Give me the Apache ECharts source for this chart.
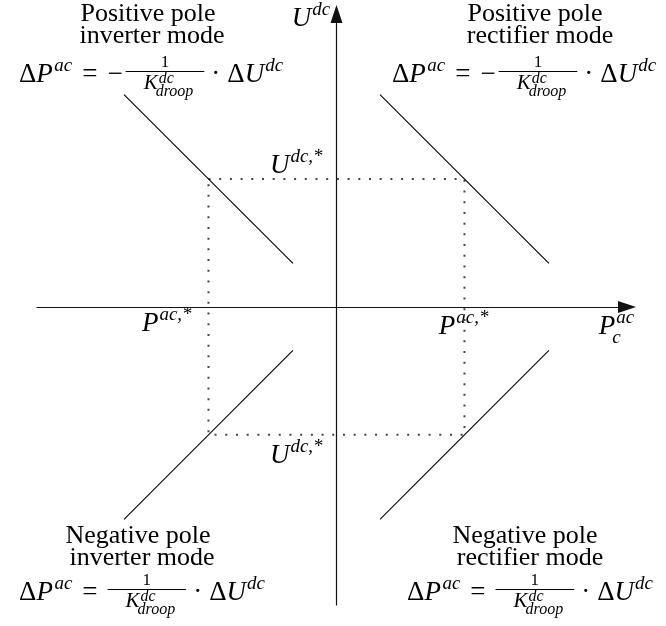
<!DOCTYPE html>
<html>
<head>
<meta charset="utf-8">
<script src="https://cdn.jsdelivr.net/npm/echarts@6/dist/echarts.min.js"></script>
<style>
  html, body { margin: 0; padding: 0; background: #fff; }
  #chart { width: 666px; height: 626px; }
</style>
</head>
<body>
<div id="chart"></div>
<script>
// Normalised set-points: P^{ac,*} = ±1, U^{dc,*} = ±1
const setPointBox = [[-1, 1], [1, 1], [1, -1], [-1, -1], [-1, 1]];

// Droop characteristic segments, one per pole / converter mode
const posInverter  = [[-1.66, 1.66], [-0.34, 0.34]];
const posRectifier = [[0.34, 1.66], [1.66, 0.34]];
const negInverter  = [[-1.66, -1.66], [-0.34, -0.34]];
const negRectifier = [[0.34, -1.66], [1.66, -0.34]];

// Axis extents (normalised units)
const xExtent = [-2.34, 2.27];
const yExtent = [-2.33, 2.29];

// Quadrant captions: text lines and the sign in front of the droop fraction
const quadrantTitles = [
  ['Positive pole', 'inverter mode'],
  ['Positive pole', 'rectifier mode'],
  ['Negative pole', 'inverter mode'],
  ['Negative pole', 'rectifier mode']
];
const quadrantSigns = ['\u2212', '\u2212', '', ''];

const chart = echarts.init(document.getElementById('chart'), null, { renderer: 'canvas' });

const arrowPath = 'path://M6,0L12,18L0,18Z';
const axisLineStyle = { color: '#111', width: 1.2 };

function axisCfg(extent) {
  return {
    type: 'value',
    min: extent[0],
    max: extent[1],
    axisLine: {
      show: true,
      onZero: true,
      symbol: ['none', arrowPath],
      symbolSize: [12, 18],
      lineStyle: axisLineStyle
    },
    axisTick: { show: false },
    axisLabel: { show: false },
    splitLine: { show: false }
  };
}

function droopSeries(data) {
  return {
    type: 'line',
    data: data,
    symbol: 'none',
    silent: true,
    lineStyle: { color: '#000', width: 1.1 },
    z: 3
  };
}

chart.setOption({
  animation: false,
  backgroundColor: '#fff',
  grid: { left: 37, right: 39, top: 14, bottom: 21, outerBoundsMode: 'none' },
  xAxis: axisCfg(xExtent),
  yAxis: axisCfg(yExtent),
  series: [
    {
      type: 'line',
      data: setPointBox,
      symbol: 'none',
      silent: true,
      lineStyle: { color: '#444', width: 2, type: [2, 8.7], cap: 'butt' },
      z: 2
    },
    droopSeries(posInverter),
    droopSeries(posRectifier),
    droopSeries(negInverter),
    droopSeries(negRectifier)
  ]
});

// ---- math-style text typesetting helpers ----
const FAMILY = '"Liberation Serif", "Times New Roman", serif';
const ST = 26;       // caption text size
const S0 = 27;       // math base size
const S1 = 19;       // superscript size
const SN = 17;       // fraction numerator size
const SK = 21;       // fraction denominator base size
const S2 = 16;       // scripts on the denominator
const SUP = 11;      // superscript raise
const THICK = 10;    // space around relations
const MED = 7;       // space around binary operators
const mctx = document.createElement('canvas').getContext('2d');

function fontOf(size, it) { return (it ? 'italic ' : '') + size + 'px ' + FAMILY; }
function widthOf(t, size, it) { mctx.font = fontOf(size, it); return mctx.measureText(t).width; }
function baseOff(size, it) {
  mctx.font = fontOf(size, it);
  mctx.textBaseline = 'middle';
  const d = mctx.measureText('H').actualBoundingBoxDescent;
  mctx.textBaseline = 'alphabetic';
  return d;
}
function textEl(t, x, baseline, size, it, align) {
  return {
    type: 'text',
    x: x,
    y: baseline - baseOff(size, it),
    silent: true,
    style: {
      text: t,
      font: fontOf(size, it),
      fill: '#000',
      align: align || 'left',
      verticalAlign: 'middle',
      textAlign: align || 'left',
      textVerticalAlign: 'middle'
    }
  };
}
function shiftEls(els, dx) {
  els.forEach(function (e) {
    if (e.type === 'rect') e.shape.x += dx; else e.x += dx;
  });
}

// ΔP^ac = [sign] 1/K^dc_droop · ΔU^dc, centred on cx with baseline B
function droopFormula(sign, cx, B) {
  const els = [];
  let x = 0;
  function put(t, s, it, dy) {
    els.push(textEl(t, x, B + (dy || 0), s, it));
    x += widthOf(t, s, it);
  }
  put('\u0394', S0, false);
  put('P', S0, true); x += 1.5;
  put('ac', S1, true, -SUP);
  x += THICK; put('=', S0, false); x += THICK;
  if (sign) { put(sign, S0, false); x += 3; }

  const numW = widthOf('1', SN, false);
  const kW = widthOf('K', SK, true);
  const scriptW = Math.max(widthOf('dc', S2, true), widthOf('droop', S2, true));
  const denW = kW + scriptW;
  const padL = 18, padR = 9;
  const barW = denW + padL + padR;
  const fx = x;
  els.push(textEl('1', fx + (barW - numW) / 2, B - 15, SN, false));
  const dx = fx + padL;
  els.push(textEl('K', dx, B + 7, SK, true));
  els.push(textEl('dc', dx + kW + 1, B + 1, S2, true));
  els.push(textEl('droop', dx + kW - 2, B + 14, S2, true));
  els.push({ type: 'rect', silent: true, shape: { x: fx, y: B - 11, width: barW, height: 1 }, style: { fill: '#000' } });
  x += barW;

  x += MED; put('\u00B7', S0, false); x += MED;
  put('\u0394', S0, false);
  put('U', S0, true); x += 1;
  put('dc', S1, true, -SUP);
  shiftEls(els, cx - x / 2);
  return els;
}

// Base letter with superscript (and optional subscript), left-aligned at x
function scripted(base, sup, sub, x, B) {
  const els = [textEl(base, x, B, S0, true)];
  const bx = x + widthOf(base, S0, true);
  els.push(textEl(sup, bx + 1, B - SUP, S1, true));
  if (sub) els.push(textEl(sub, bx - 3, B + 9, S1, true));
  return els;
}

// Caption layout: line centres and baselines per quadrant
const captionLayout = [
  { cx: [148, 152, 151], base: [21, 43, 82] },
  { cx: [535, 540, 524], base: [21, 43, 82] },
  { cx: [138, 142, 142], base: [543, 565, 600] },
  { cx: [525, 530, 530], base: [543, 565, 600] }
];

// Axis and set-point labels, anchored in data units (left edge, baseline)
const axisLabels = [
  { base: 'U', sup: 'dc', at: [-0.35, 2.20] },
  { base: 'P', sup: 'ac', sub: 'c', at: [2.05, -0.21] },
  { base: 'P', sup: 'ac,*', at: [0.80, -0.21] },
  { base: 'P', sup: 'ac,*', at: [-1.52, -0.19] },
  { base: 'U', sup: 'dc,*', at: [-0.52, 1.05] },
  { base: 'U', sup: 'dc,*', at: [-0.52, -1.22] }
];

const graphics = [];
quadrantTitles.forEach(function (lines, i) {
  const lay = captionLayout[i];
  graphics.push(textEl(lines[0], lay.cx[0], lay.base[0], ST, false, 'center'));
  graphics.push(textEl(lines[1], lay.cx[1], lay.base[1], ST, false, 'center'));
  droopFormula(quadrantSigns[i], lay.cx[2], lay.base[2]).forEach(function (e) { graphics.push(e); });
});
axisLabels.forEach(function (l) {
  const p = chart.convertToPixel({ gridIndex: 0 }, l.at);
  scripted(l.base, l.sup, l.sub, p[0], p[1]).forEach(function (e) { graphics.push(e); });
});

chart.setOption({ graphic: { elements: graphics } });
</script>
</body>
</html>
